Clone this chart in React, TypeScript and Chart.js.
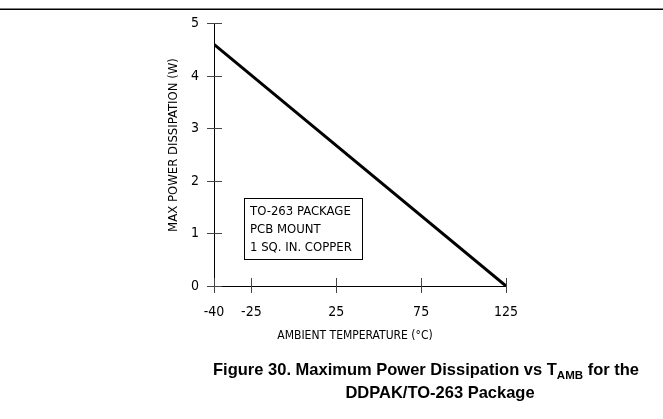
import React, { useEffect, useRef } from 'react';
import { Chart, registerables, LinearScale } from 'chart.js';

// ---- data ----
const temperatures = [-40, 125];
const powerDissipation = [4.6, 0];
const xTickValues = [-40, -25, 25, 75, 125];
const yTickValues = [0, 1, 2, 3, 4, 5];
const annotationLines = ['TO-263 PACKAGE', 'PCB MOUNT', '1 SQ. IN. COPPER'];
const xTitle = 'AMBIENT TEMPERATURE (°C)';
const yTitle = 'MAX POWER DISSIPATION (W)';
const captionParts = ['Figure 30. Maximum Power Dissipation vs T', 'AMB', ' for the'];
const captionLine2 = 'DDPAK/TO-263 Package';

// The original drawing's x axis is broken: -40..-25 is stretched.
const axisSegments = [
  { from: -40, to: -25, start: 0, end: 0.128 },
  { from: -25, to: 125, start: 0.128, end: 1 },
];

function valueToDecimal(v: number): number {
  for (const s of axisSegments) {
    if (v <= s.to || s === axisSegments[axisSegments.length - 1]) {
      return s.start + ((v - s.from) / (s.to - s.from)) * (s.end - s.start);
    }
  }
  return 0;
}
function decimalToValue(d: number): number {
  for (const s of axisSegments) {
    if (d <= s.end || s === axisSegments[axisSegments.length - 1]) {
      return s.from + ((d - s.start) / (s.end - s.start)) * (s.to - s.from);
    }
  }
  return 0;
}

class BrokenLinearScale extends (LinearScale as any) {
  static id = 'brokenLinear';
  static defaults = (LinearScale as any).defaults;
  getPixelForValue(value: any) {
    if (value === null || value === undefined || isNaN(value)) return NaN;
    return (this as any).getPixelForDecimal(valueToDecimal(+value));
  }
  getValueForPixel(pixel: number) {
    return decimalToValue((this as any).getDecimalForPixel(pixel));
  }
}

Chart.register(...registerables, BrokenLinearScale as any);

const NARROW = '"Liberation Sans Narrow", "DejaVu Sans Condensed", sans-serif';
const BOLD = '"Liberation Sans", Arial, sans-serif';

const decorPlugin = {
  id: 'decor',
  afterDraw(chart: any) {
    const ctx: CanvasRenderingContext2D = chart.ctx;
    const { left, right, top, bottom } = chart.chartArea;
    const xs = chart.scales.x;
    const ys = chart.scales.y;
    ctx.save();
    // top rule
    ctx.fillStyle = '#000';
    ctx.fillRect(0, 8.5, chart.width, 1.5);

    // axis lines
    ctx.strokeStyle = '#000';
    ctx.lineWidth = 1;
    ctx.beginPath();
    ctx.moveTo(Math.round(left) + 0.5, top);
    ctx.lineTo(Math.round(left) + 0.5, bottom);
    ctx.moveTo(left, Math.round(bottom) + 0.5);
    ctx.lineTo(right, Math.round(bottom) + 0.5);
    ctx.stroke();

    // crossing tick marks
    ctx.strokeStyle = '#444';
    ctx.beginPath();
    for (const v of yTickValues) {
      const py = Math.round(ys.getPixelForValue(v)) + 0.5;
      ctx.moveTo(left - 7, py);
      ctx.lineTo(left + 8, py);
    }
    for (const v of xTickValues) {
      const px = Math.round(xs.getPixelForValue(v)) + 0.5;
      ctx.moveTo(px, bottom - 8);
      ctx.lineTo(px, bottom + 7);
    }
    ctx.stroke();

    // axis titles
    ctx.fillStyle = '#000';
    ctx.textAlign = 'center';
    ctx.textBaseline = 'middle';
    ctx.font = '12px ' + NARROW;
    ctx.fillText(xTitle, 355, 336);
    ctx.font = '13px ' + NARROW;
    ctx.save();
    ctx.translate(174, 145);
    ctx.rotate(-Math.PI / 2);
    ctx.fillText(yTitle, 0, 0);
    ctx.restore();

    // annotation box
    const bx = left + 30, by = top + 175, bw = 118, bh = 61;
    ctx.strokeStyle = '#000';
    ctx.lineWidth = 1;
    ctx.strokeRect(Math.round(bx) + 0.5, Math.round(by) + 0.5, bw, bh);
    ctx.font = '13px ' + NARROW;
    ctx.textAlign = 'left';
    ctx.textBaseline = 'middle';
    annotationLines.forEach((t, i) => {
      ctx.fillText(t, bx + 6, by + 13 + i * 18);
    });

    // caption
    const big = 'bold 16.5px ' + BOLD;
    const small = 'bold 11.5px ' + BOLD;
    ctx.textBaseline = 'alphabetic';
    ctx.font = big;
    const w0 = ctx.measureText(captionParts[0]).width;
    const w2 = ctx.measureText(captionParts[2]).width;
    ctx.font = small;
    const w1 = ctx.measureText(captionParts[1]).width;
    let x = 426 - (w0 + w1 + w2) / 2;
    const base1 = 375;
    ctx.textAlign = 'left';
    ctx.font = big;
    ctx.fillText(captionParts[0], x, base1);
    x += w0;
    ctx.font = small;
    ctx.fillText(captionParts[1], x, base1 + 4);
    x += w1;
    ctx.font = big;
    ctx.fillText(captionParts[2], x, base1);
    ctx.textAlign = 'center';
    ctx.fillText(captionLine2, 440, 398);
    ctx.restore();
  },
};

export default function App() {
  const ref = useRef<HTMLCanvasElement>(null);
  useEffect(() => {
    if (!ref.current) return;
    const chart = new Chart(ref.current, {
      type: 'line',
      data: {
        datasets: [
          {
            data: temperatures.map((t, i) => ({ x: t, y: powerDissipation[i] })),
            borderColor: '#000',
            borderWidth: 3,
            pointRadius: 0,
            fill: false,
            tension: 0,
          },
        ],
      },
      options: {
        animation: false,
        responsive: false,
        layout: { padding: { left: 0, right: 157, top: 22, bottom: 0 } },
        plugins: { legend: { display: false }, tooltip: { enabled: false } },
        scales: {
          x: {
            type: 'brokenLinear' as any,
            min: -40,
            max: 125,
            afterBuildTicks: (s: any) => {
              s.ticks = xTickValues.map((v) => ({ value: v }));
            },
            afterFit: (s: any) => {
              s.height = 133;
            },
            grid: { display: false, drawTicks: false },
            border: { display: false },
            ticks: {
              padding: 18,
              color: '#000',
              font: { family: NARROW, size: 14 },
              autoSkip: false,
              maxRotation: 0,
              callback: (v: any) => String(v),
            },
          },
          y: {
            type: 'linear',
            min: 0,
            max: 5,
            afterBuildTicks: (s: any) => {
              s.ticks = yTickValues.map((v) => ({ value: v }));
            },
            afterFit: (s: any) => {
              s.width = 214;
            },
            grid: { display: false, drawTicks: false },
            border: { display: false },
            ticks: {
              padding: 15,
              color: '#000',
              font: { family: NARROW, size: 14 },
              callback: (v: any) => String(v),
            },
          },
        },
      },
      plugins: [decorPlugin],
    } as any);
    return () => chart.destroy();
  }, []);
  return (
    <div style={{ position: 'fixed', left: 0, top: 0, width: 663, height: 419, background: '#fff' }}>
      <canvas ref={ref} width={663} height={419} style={{ width: 663, height: 419, display: 'block' }} />
    </div>
  );
}
